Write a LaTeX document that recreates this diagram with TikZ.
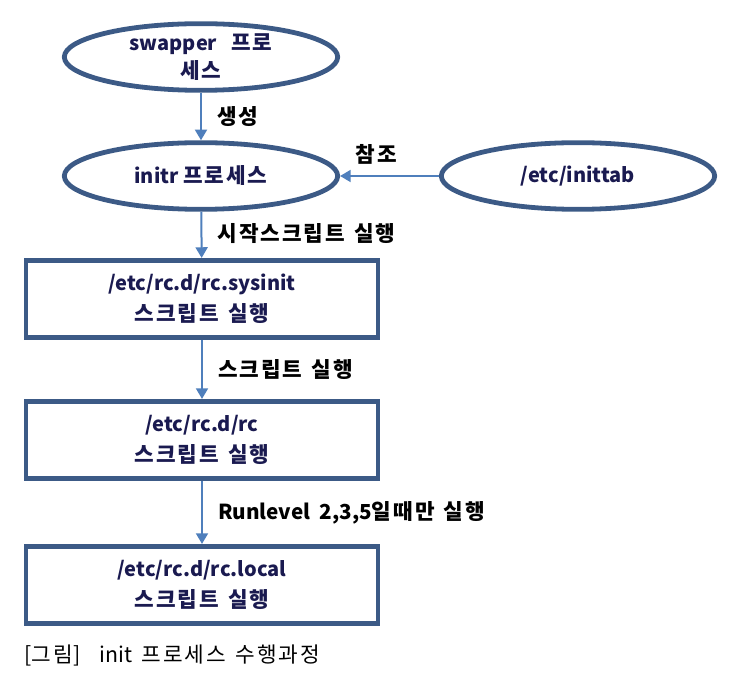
\documentclass[tikz,border=0pt]{standalone}
\usepackage{fontspec}
\setmainfont{Noto Sans CJK KR}
\newfontfamily\kofont{Noto Sans CJK KR}[LetterSpace=9]
\usetikzlibrary{shapes.geometric,arrows.meta}
\definecolor{border}{HTML}{3C5A86}
\definecolor{arrowc}{HTML}{4F7FBC}
\definecolor{boxtext}{HTML}{1A1A50}
\newcommand{\wsp}{\hspace{0.45em}}
\newcommand{\ko}[1]{{\kofont\fontsize{16}{24}\selectfont #1}}
\begin{document}
\begin{tikzpicture}[x=0.75pt,y=-0.75pt,
  proc/.style={ellipse,draw=border,line width=3.6pt,minimum width=205pt,minimum height=50pt,inner sep=0pt,align=center,font=\fontsize{15}{21}\selectfont\bfseries,text=boxtext},
  scr/.style={rectangle,draw=border,line width=3.6pt,minimum width=264pt,minimum height=58pt,inner sep=0pt,align=center,font=\fontsize{15}{23}\selectfont\bfseries,text=boxtext},
  conn/.style={draw=arrowc,line width=1.5pt,-{Triangle[width=9pt,length=8pt]}},
  lbl/.style={font=\fontsize{15.5}{18}\selectfont\bfseries,text=black,anchor=west}]
\useasboundingbox (0,0) rectangle (729,673);
\node[proc] (swap) at (201,57) {swapper\hspace{0.7em}\ko{프로}\\\ko{세스}};
\node[proc] (initr) at (201,176) {initr \ko{프로세스}};
\node[proc] (tab) at (578,176) {/etc/inittab};
\node[scr] (sys) at (202,299) {/etc/rc.d/rc.sysinit\\\ko{스크립트}\wsp\ko{실행}};
\node[scr] (rc) at (202,440) {/etc/rc.d/rc\\\ko{스크립트}\wsp\ko{실행}};
\node[scr] (loc) at (202,585) {/etc/rc.d/rc.local\\\ko{스크립트}\wsp\ko{실행}};
\draw[conn] (swap) -- (initr) node[midway,lbl,xshift=8pt] (l1) {\ko{생성}};
\draw[conn] (tab) -- (initr) node[midway,lbl,anchor=south,yshift=5pt,xshift=-10pt] (l2) {\ko{참조}};
\draw[conn] (initr) -- (sys) node[midway,lbl,xshift=8pt,yshift=1pt] (l3) {\ko{시작스크립트}\wsp\ko{실행}};
\draw[conn] (sys) -- (rc) node[midway,lbl,xshift=8pt] (l4) {\ko{스크립트}\wsp\ko{실행}};
\draw[conn] (rc) -- (loc) node[midway,lbl,xshift=8pt] (l5) {Runlevel\wsp 2,3,5\ko{일때만}\wsp\ko{실행}};
\node[anchor=west,font=\fontsize{16}{18}\selectfont] (cap) at (20,655) {[\ko{그림}]\hspace{0.9em}init\wsp\ko{프로세스}\wsp\ko{수행과정}};
\end{tikzpicture}
\end{document}
